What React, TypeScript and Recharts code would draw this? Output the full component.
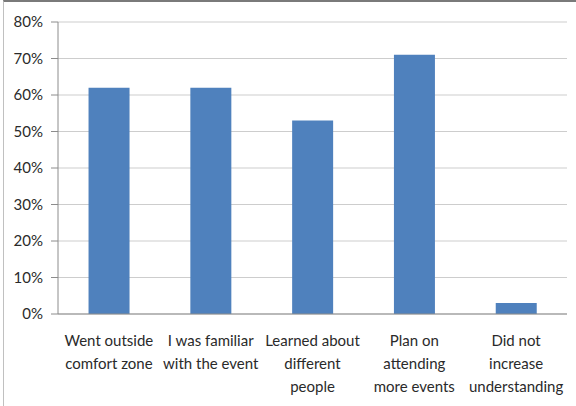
import { BarChart, Bar, XAxis, YAxis, CartesianGrid } from 'recharts';

const categories = [
  'Went outside\ncomfort zone',
  'I was familiar\nwith the event',
  'Learned about\ndifferent\npeople',
  'Plan on\nattending\nmore events',
  'Did not\nincrease\nunderstanding',
];
const percentages = [62, 62, 53, 71, 3];
const yTicks = [0, 10, 20, 30, 40, 50, 60, 70, 80];
const edgeTicks = [0, 1, 2, 3, 4, 5];

const chartData = categories.map((name, i) => ({ name, value: percentages[i] }));

const FONT = 'Lato, "Open Sans", sans-serif';
const TEXT = '#2a2a2a';
const AXIS = '#8c8c8c';

const CategoryTick = ({ x, y, payload }: any) => {
  const lines = String(payload.value).split('\n');
  return (
    <text x={x} y={y} textAnchor="middle" fill={TEXT} fontSize={15} fontFamily={FONT}>
      {lines.map((line, i) => (
        <tspan key={i} x={x} dy={i === 0 ? 18 : 23}>
          {line}
        </tspan>
      ))}
    </text>
  );
};

const EmptyTick = () => <g />;

export default function App() {
  return (
    <div style={{ position: 'absolute', left: 0, top: 0, width: 576, height: 406, background: '#fff' }}>
      <BarChart
        width={576}
        height={406}
        data={chartData}
        margin={{ top: 22, right: 9, left: 0, bottom: 0 }}
        barCategoryGap="30%"
      >
        <CartesianGrid vertical={false} stroke="#cdcdcd" />
        <XAxis
          xAxisId="edge"
          type="number"
          domain={[0, 5]}
          ticks={edgeTicks}
          allowDataOverflow
          axisLine={false}
          tick={EmptyTick}
          tickLine={{ stroke: AXIS }}
          tickSize={6}
          height={0}
        />
        <XAxis
          xAxisId="cat"
          dataKey="name"
          interval={0}
          tickLine={false}
          axisLine={{ stroke: AXIS }}
          tick={CategoryTick}
          tickMargin={8}
          height={92}
        />
        <YAxis
          domain={[0, 80]}
          ticks={yTicks}
          tickFormatter={(v: number) => `${v}%`}
          width={58}
          tickSize={7}
          tickMargin={8}
          axisLine={{ stroke: AXIS }}
          tickLine={{ stroke: AXIS }}
          tick={{ fill: TEXT, fontSize: 15, fontFamily: FONT }}
        />
        <Bar xAxisId="cat" dataKey="value" fill="#4f81bd" isAnimationActive={false} />
      </BarChart>
      <div
        style={{
          position: 'absolute',
          left: 0,
          top: 0,
          width: 576,
          height: 406,
          boxSizing: 'border-box',
          borderTop: '2px solid #7a7a7a',
          borderLeft: '1px solid #c0c0c0',
          marginLeft: 3,
          pointerEvents: 'none',
        }}
      />
    </div>
  );
}
